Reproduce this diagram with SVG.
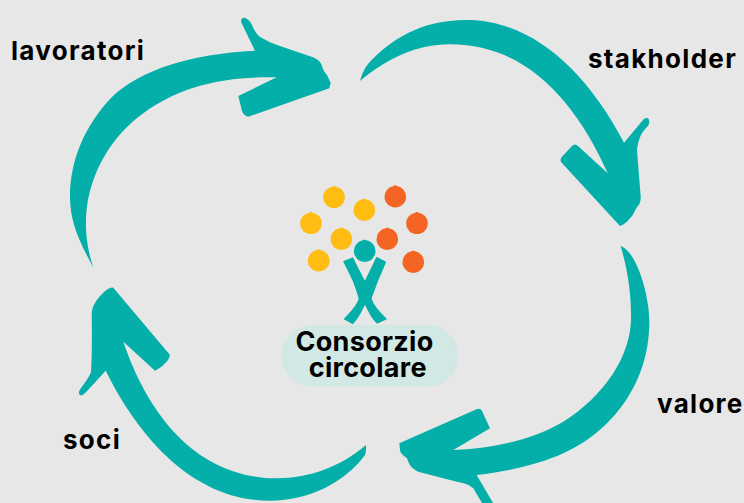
<svg xmlns="http://www.w3.org/2000/svg" width="744" height="503" viewBox="0 0 744 503">
<style>
.arrow{fill:#03afa8}
.label{font-family:"Inter","Liberation Sans",sans-serif;font-weight:700;font-size:26px;letter-spacing:1.3px;fill:#000}
.title{font-family:"Inter","Liberation Sans",sans-serif;font-weight:700;font-size:27px;letter-spacing:.3px;fill:#000;text-anchor:middle}
.y{fill:#ffbc13}
.o{fill:#f46523}
.t{fill:#03afa8}
</style>
<defs>
<path id="fruit" d="M-10.8 0A10.8 10.8 0 0 0 10.8 0A10.8 10.8 0 0 0 1.8 -10.65L0 -11.6L-1.8 -10.65A10.8 10.8 0 0 0 -10.8 0Z"/>
</defs>
<rect width="744" height="503" fill="#e7e7e7"/>
<g id="connectors">
<path class="arrow" d="M93.3 267.3C78 240 70 220 70 197C70 160 85 125 112 97C140 70 190 54 255 50.7L241.7 23.3C240 20 242 17 245 18C248 19 250 21 252 25C255 32 258 36 262 38C267 41 272 43 277 45L313 57.3C318 59 321 63 322 66C323 70 325 73 327 75L330.7 83L329.3 88.3L249 116.5C246 117 243 114 242 111L238.3 96L276.7 77.3C230 76 178 84 136.7 118.3C100 148 72 205 93.3 267.3Z"/>
<path class="arrow" d="M360 81C362 74 364 69 368 64C390 40 420 20 466.7 20C530 20 585 68 624 142.7L643 120C645 118 648 117 649 120C650 124 648 126 646 128C641 133 638 140 637 150L640.7 196.7C641 202 639 205 637 207C634 212 633 216 630 218.3C627 222 624 225 620 226L561 162C560 160 561 158 562 156.7L572 146C574 144 576 144 578 146L607.7 173.3C575 100 525 44 450 44.3C418 44 388 58 360 81Z"/>
<path class="arrow" d="M620.7 246C637 252 649 295 649.3 320C650 385 610 432 563.3 453.3C540 464 510 471 476.7 475L493 503H482L473.3 488.3C469 484 463 483 457 481.7L420 472.3C414 470 411 467 410 465C408 462 408 460 406.7 458C403 455 400 453 400 450L399.3 443.3L476 409.5C479 408 481 409 482 411L490 428.3L453.3 450C490 449 530 441 563.3 421.7C605 395 632 355 631 315C631 290 627 268 620.7 246Z"/>
<path class="arrow" d="M366 445C366 449 366 452 365 455C345 482 310 500.7 270 500.7C195 500.7 140 440 105.7 370.7L85 393.3C83 395 81 396 80 395C78 393 79 391 81 388C85 383 89 377 91 372C92 360 92 330 91.7 313C92 309 93 306 95 303C97 299 100 296 103 293C106 290 110 287 113.3 287.7L170 355C169 358 168 361 165 363.3C162 367 158 369 155 370.7L123.3 341.7C150 420 200 478 277 478.3C310 478 340 467 366 445Z"/>
</g>
<g id="tree">
<g class="y">
<use href="#fruit" x="334" y="197.3"/>
<use href="#fruit" x="364.3" y="210"/>
<use href="#fruit" x="311" y="223.3"/>
<use href="#fruit" x="341.3" y="239"/>
<use href="#fruit" x="318.7" y="260.7"/>
</g>
<g class="o">
<use href="#fruit" x="395.3" y="196.7"/>
<use href="#fruit" x="417" y="223.3"/>
<use href="#fruit" x="387.3" y="239"/>
<use href="#fruit" x="413.3" y="262"/>
</g>
<g class="t">
<use href="#fruit" x="364.7" y="251"/>
<path transform="translate(270 175) scale(.3333)" stroke="#03afa8" stroke-width="4" stroke-linejoin="round" d="M222 260L248 249C262 280 275 302 285 322C295 300 308 275 320 248L346 261C335 290 322 315 314 340C308 356 303 365 303 372C310 395 330 415 348 432L322 444C305 430 295 405 285 385C275 405 265 430 248 445L224 432C240 415 262 395 268 372C266 360 258 340 252 322C243 300 232 280 222 260Z"/>
</g>
</g>
<g id="consorzio">
<rect x="281.3" y="325" width="177" height="61.7" rx="30.8" fill="#d2e8e4"/>
<text class="title"><tspan x="364.5" y="350.7">Consorzio</tspan><tspan x="367.8" y="376.7">circolare</tspan></text>
</g>
<g id="lavoratori"><text class="label" x="11" y="60">lavoratori</text></g>
<g id="stakholder"><text class="label" x="588" y="68">stakholder</text></g>
<g id="valore"><text class="label" x="657" y="413">valore</text></g>
<g id="soci"><text class="label" x="63" y="449">soci</text></g>
</svg>
